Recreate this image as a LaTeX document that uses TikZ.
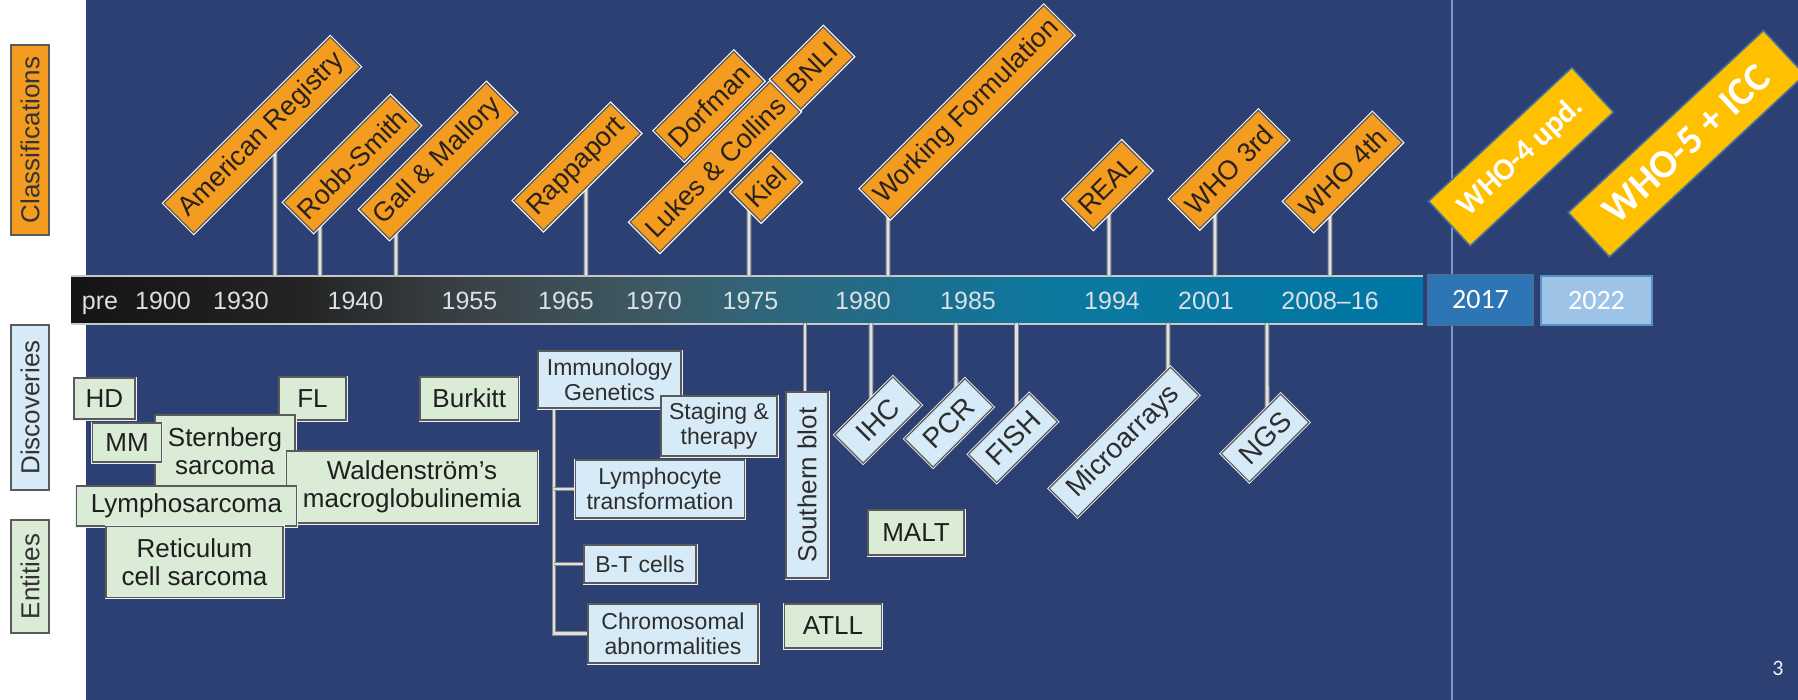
\documentclass[tikz,border=0pt]{standalone}
\usepackage{fontspec}
\setmainfont{Liberation Sans}
\newfontfamily\calfont{Carlito}
\pgfdeclarelayer{bglayer}
\pgfdeclarelayer{midlayer}
\pgfsetlayers{bglayer,midlayer,main}
\definecolor{bgblue}{RGB}{44,64,116}
\definecolor{orng}{RGB}{243,156,32}
\definecolor{clstext}{RGB}{40,34,26}
\definecolor{discfill}{RGB}{214,234,247}
\definecolor{entfill}{RGB}{218,235,214}
\definecolor{boxline}{RGB}{90,90,90}
\definecolor{yel}{RGB}{255,192,0}
\definecolor{yelline}{RGB}{65,113,156}
\definecolor{bseventeen}{RGB}{46,117,182}
\definecolor{btwentytwo}{RGB}{157,195,230}
\definecolor{vlinecol}{RGB}{128,150,196}
\definecolor{yeartext}{RGB}{218,224,228}
\definecolor{stemcore}{RGB}{224,224,224}
\definecolor{stemedge}{RGB}{135,135,135}
\definecolor{barlinecol}{RGB}{200,200,200}
\definecolor{halo}{RGB}{235,238,242}
\pgfdeclarehorizontalshading{barshade}{100bp}{rgb(0bp)=(0.08,0.08,0.08); rgb(25bp)=(0.08,0.08,0.08); rgb(33.5bp)=(0.14,0.14,0.14); rgb(39.8bp)=(0.23,0.26,0.28); rgb(46.4bp)=(0.24,0.35,0.39); rgb(50.5bp)=(0.19,0.40,0.48); rgb(55.7bp)=(0.12,0.43,0.55); rgb(61bp)=(0.05,0.47,0.62); rgb(75bp)=(0,0.467,0.65); rgb(100bp)=(0,0.467,0.65)}
\begin{document}
\begin{tikzpicture}[x=0.5pt,y=-0.5pt,
  bar/.style={anchor=north west, minimum width=675.5pt, minimum height=23.5pt, inner sep=0pt, draw=none, shading=barshade, shade},
  barline/.style={draw=barlinecol, line width=1pt},
  vline/.style={draw=vlinecol, line width=0.6pt},
  year/.style={text=yeartext, font=\fontsize{12.5}{14}\selectfont, inner sep=0pt, anchor=base},
  stem/.style={draw=stemedge, line width=0.5pt, double=stemcore, double distance=1.4pt},
  cls/.style={rotate=45, fill=orng, draw=boxline, line width=0.6pt, preaction={draw=white, line width=1.8pt}, text=clstext, font=\fontsize{13.5}{15}\selectfont, minimum height=21pt, inner xsep=2pt, inner ysep=0pt},
  ent/.style={fill=entfill, draw=boxline, line width=0.6pt, preaction={draw=halo, line width=1.5pt}, text=black!88, font=\fontsize{13}{14}\selectfont, align=center, inner sep=0pt},
  disc/.style={fill=discfill, draw=boxline, line width=0.6pt, preaction={draw=halo, line width=1.5pt}, text=black!82, font=\fontsize{11.5}{12.5}\selectfont, align=center, inner sep=0pt},
  discrot/.style={disc, rotate=45, font=\fontsize{14}{15}\selectfont, minimum height=20pt},
  lab/.style={rotate=90, draw=boxline, line width=0.6pt, text=black!80, font=\fontsize{13}{14}\selectfont, inner sep=0pt, minimum height=19pt},
  yelbox/.style={rotate=43, fill=yel, draw=yelline, line width=0.8pt, text=white, font=\calfont\bfseries, inner sep=0pt},
  yearbox/.style={draw=yelline, line width=0.7pt, text=white, font=\calfont\fontsize{14}{16}\selectfont, inner sep=0pt}
]
\useasboundingbox (0,0) rectangle (1798,700);
\begin{pgfonlayer}{bglayer}
\fill[white] (0,0) rectangle (1798,700);
\fill[bgblue] (86,0) rectangle (1798,700);
\draw[vline] (1452,0) -- (1452,700);
\node[bar] (bar) at (71,276) {};
\draw[barline] (bar.north west) -- (bar.north east);
\draw[barline] (bar.south west) -- (bar.south east);
\end{pgfonlayer}

% year labels
\foreach \x/\t [count=\i] in {100/pre,163/1900,241/1930,355.5/1940,469.5/1955,566/1965,654/1970,750.5/1975,863/1980,968/1985,1112/1994,1206/2001,1330/2008–16}
  \node[year] (yr\i) at (\x,309) {\t};

% left labels
\node[lab, fill=orng, minimum width=95pt] (Lcls) at (30,140) {Classifications};
\node[lab, fill=discfill, minimum width=82.5pt] (Ldisc) at (30,407.5) {Discoveries};
\node[lab, fill=entfill, minimum width=56.5pt] (Lent) at (30,576.5) {Entities};

% classifications
\node[cls, minimum width=117.5pt] (AR) at (262,135) {American Registry};
\node[cls, minimum width=75pt] (RS) at (352,164) {Robb-Smith};
\node[cls, minimum width=89.5pt] (GM) at (438,161) {Gall \& Mallory};
\node[cls, minimum width=68.5pt] (RP) at (577,167) {Rappaport};
\node[cls, minimum width=56pt] (DF) at (709,106) {Dorfman};
\node[cls, minimum width=99pt] (LC) at (715,167) {Lukes \& Collins};
\node[cls, minimum width=37pt] (BN) at (812,68) {BNLI};
\node[cls, minimum width=28pt] (KI) at (766,187) {Kiel};
\node[cls, minimum width=129.5pt] (WF) at (967,112) {Working Formulation};
\node[cls, minimum width=41pt] (RE) at (1107.5,185) {REAL};
\node[cls, minimum width=62.5pt] (W3) at (1229,169.5) {WHO 3rd};
\node[cls, minimum width=62.5pt] (W4) at (1343,172) {WHO 4th};

% new classifications
\node[yelbox, minimum width=98pt, minimum height=30.5pt, font=\calfont\bfseries\fontsize{15.5}{17}\selectfont] (Y4) at (1521,156.7) {WHO-4 upd.};
\node[yelbox, minimum width=133.5pt, minimum height=30.3pt, font=\calfont\bfseries\fontsize{20}{22}\selectfont] (Y5) at (1686.5,143.7) {WHO-5 + ICC};
\node[yearbox, fill=bseventeen, minimum width=52.5pt, minimum height=25pt] (b17) at (1480.5,300) {2017};
\node[yearbox, fill=btwentytwo, draw=bseventeen!80, minimum width=55.5pt, minimum height=24.5pt] (b22) at (1596.5,300.5) {2022};

% entities
\node[ent, minimum width=30.5pt, minimum height=20.5pt] (HD) at (104.5,398.5) {HD};
\node[ent, minimum width=33.5pt, minimum height=21.5pt] (FL) at (312.5,398.5) {FL};
\node[ent, minimum width=49.3pt, minimum height=21.5pt] (BK) at (469.3,398.5) {Burkitt};
\node[ent, minimum width=70pt, minimum height=36pt] (SS) at (225,451) {Sternberg\\sarcoma};
\node[ent, minimum width=34.25pt, minimum height=19.5pt] (MM) at (127,442.5) {MM};
\node[ent, minimum width=125.5pt, minimum height=36pt] (WM) at (412,487) {Waldenström's\\macroglobulinemia};
\node[ent, minimum width=110pt, minimum height=20pt] (LS) at (186.5,506) {Lymphosarcoma};
\node[ent, minimum width=88.5pt, minimum height=35.5pt] (RC) at (194.5,562) {Reticulum\\cell sarcoma};
\node[ent, minimum width=48pt, minimum height=22.5pt] (MALT) at (916,532.5) {MALT};
\node[ent, minimum width=48.5pt, minimum height=22pt] (ATLL) at (833,626) {ATLL};

% discoveries
\node[disc, minimum width=71.5pt, minimum height=28.5pt] (IG) at (609.5,379.5) {Immunology\\Genetics};
\node[disc, minimum width=58pt, minimum height=30pt] (ST) at (719,426) {Staging \&\\therapy};
\node[disc, minimum width=84.3pt, minimum height=29pt] (LT) at (660,489) {Lymphocyte\\transformation};
\node[disc, minimum width=56pt, minimum height=19pt] (BT) at (640,564) {B-T cells};
\node[disc, minimum width=85pt, minimum height=29.5pt] (CA) at (673,633.5) {Chromosomal\\abnormalities};
\node[disc, rotate=90, font=\fontsize{13}{14}\selectfont, minimum width=93pt, minimum height=21pt] (SB) at (807,485) {Southern blot};
\node[discrot, minimum width=41pt] (IHC) at (878,420) {IHC};
\node[discrot, minimum width=42.5pt] (PCR) at (949,423) {PCR};
\node[discrot, minimum width=43pt] (FISH) at (1013,438) {FISH};
\node[discrot, minimum width=85.75pt] (MA) at (1124,442) {Microarrays};
\node[discrot, minimum width=42pt] (NGS) at (1265,438) {NGS};

% page number
\node[text=white!90!gray, font=\calfont\fontsize{11}{12}\selectfont, inner sep=0pt] (pg) at (1778,668) {3};

% stem anchor coordinates
\foreach \n/\x in {AR/275,RS/320,GM/396,RP/586,KI/749,WF/888,RE/1109,W3/1215,W4/1330}{
  \coordinate (s\n) at (\x,276);
  \coordinate (u\n) at (\x,0);
}
\foreach \n/\x in {SB/805,IHC/871,PCR/956,FISH/1016.5,MA/1168,NGS/1267}{
  \coordinate (s\n) at (\x,323);
  \coordinate (u\n) at (\x,700);
}
\coordinate (brx) at (554,0);

\begin{pgfonlayer}{midlayer}
\foreach \n in {AR,RS,GM,RP,KI,WF,RE,W3,W4,IHC,PCR,FISH,MA,NGS}
  \draw[stem] (s\n) -- (intersection of \n.west--\n.east and s\n--u\n);
\draw[stem] (sSB) -- (sSB |- SB.center);
\draw[stem] (IG.south -| brx) |- (CA.west);
\draw[stem] (LT.west -| brx) -- (LT.west);
\draw[stem] (BT.west -| brx) -- (BT.west);
\end{pgfonlayer}
\end{tikzpicture}
\end{document}
